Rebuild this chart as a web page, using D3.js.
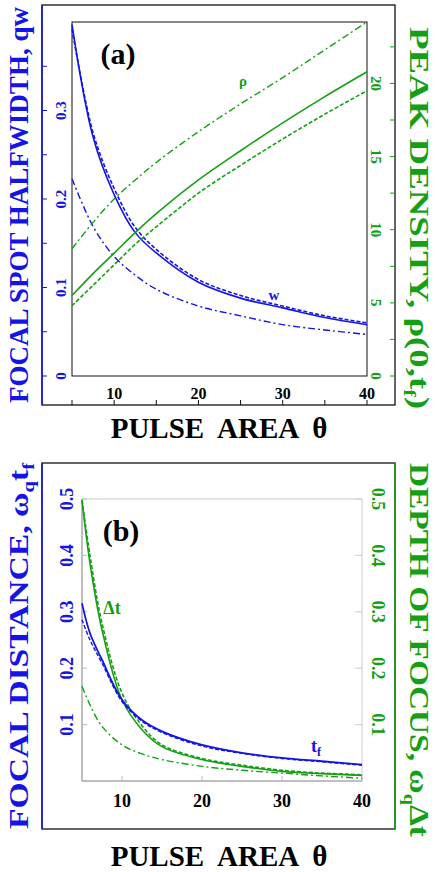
<!DOCTYPE html><html><head><meta charset="utf-8">
<script src="https://cdn.jsdelivr.net/npm/d3@7"></script>
<style>body{margin:0;background:#fff}text{font-family:"Liberation Serif","DejaVu Serif",serif;font-weight:bold}</style>
</head><body><svg id="c" width="436" height="872"></svg>
<script>
const BLUE="#1414e6", GREEN="#14a014";
// Panel (a)
const thetaA=[5,7.5,10,12.5,15,20,25,30,35,40];
const wSolid=[0.397,0.27,0.205,0.162,0.139,0.106,0.088,0.077,0.066,0.058];
const wDash =[0.392,0.275,0.212,0.168,0.143,0.109,0.091,0.079,0.068,0.060];
const wDashDot=[0.223,0.169,0.135,0.114,0.098,0.079,0.068,0.058,0.052,0.047];
const rhoSolid=[5.5,7.0,8.4,9.8,11.1,13.4,15.4,17.3,19.1,20.8];
const rhoDash=[4.8,6.2,7.6,9.0,10.2,12.5,14.4,16.2,17.9,19.5];
const rhoDashDot=[8.7,10.5,12.1,13.4,14.6,16.7,18.6,20.4,22.3,24.2];
const leftTicksA=[0,0.1,0.2,0.3], rightTicksA=[0,5,10,15,20];
// Panel (b)
const thetaB=[5,6,7.5,10,12.5,15,20,25,30,35,40];
const tfSolid=[0.315,0.262,0.215,0.144,0.108,0.088,0.064,0.050,0.041,0.035,0.029];
const tfDash=[0.286,0.250,0.209,0.141,0.106,0.086,0.062,0.049,0.040,0.034,0.028];
const dtSolid=[0.498,0.386,0.268,0.144,0.091,0.061,0.038,0.026,0.017,0.013,0.010];
const dtDash=[0.498,0.40,0.28,0.156,0.098,0.064,0.040,0.028,0.019,0.014,0.011];
const dtDashDot=[0.168,0.135,0.097,0.064,0.048,0.038,0.026,0.019,0.014,0.009,0.005];
const ticksB=[0.1,0.2,0.3,0.4,0.5], xTicks=[10,20,30,40];
const svg=d3.select("#c");
function line(g,x,y,xs,ys,color,dash,w){
 g.append("path").datum(xs.map((v,i)=>[v,ys[i]])).attr("fill","none").attr("stroke",color)
  .attr("stroke-width",w||1.6).attr("stroke-dasharray",dash||null)
  .attr("d",d3.line().x(d=>x(d[0])).y(d=>y(d[1])).curve(d3.curveCatmullRom));
}
// ---- (a)
{
 const g=svg.append("g");
 const x=d3.scaleLinear([5,40],[72,367]);
 const yL=d3.scaleLinear([0,0.4],[376,22]);
 const yR=d3.scaleLinear([0,24.2],[376,22]);
 g.append("rect").attr("x",42).attr("y",5).attr("width",353).attr("height",400).attr("fill","none").attr("stroke","#111").attr("stroke-width",1.3);
 g.append("line").attr("x1",42).attr("x2",42).attr("y1",5).attr("y2",405).attr("stroke",BLUE).attr("stroke-width",1.5);
 g.append("rect").attr("x",72).attr("y",22).attr("width",295).attr("height",354).attr("fill","none").attr("stroke","#111").attr("stroke-width",1);
 d3.range(0,0.4,0.05).forEach(v=>g.append("line").attr("x1",42).attr("x2",47).attr("y1",yL(v)).attr("y2",yL(v)).attr("stroke",BLUE));
 leftTicksA.forEach(v=>g.append("text").attr("transform",`translate(66,${yL(v)}) rotate(-90)`).attr("text-anchor","middle").attr("fill",BLUE).attr("font-size",15).text(v));
 d3.range(0,25,2.5).forEach(v=>g.append("line").attr("x1",390).attr("x2",395).attr("y1",yR(v)).attr("y2",yR(v)).attr("stroke",GREEN));
 rightTicksA.forEach(v=>g.append("text").attr("transform",`translate(371,${yR(v)}) rotate(90)`).attr("text-anchor","middle").attr("fill",GREEN).attr("font-size",15).text(v));
 d3.range(5,41,5).forEach(v=>g.append("line").attr("x1",x(v)).attr("x2",x(v)).attr("y1",405).attr("y2",400).attr("stroke","#111"));
 xTicks.forEach(v=>g.append("text").attr("x",x(v)).attr("y",399).attr("text-anchor","middle").attr("font-size",16).text(v));
 line(g,x,yL,thetaA,wSolid,BLUE);
 line(g,x,yL,thetaA,wDash,BLUE,"4,2");
 line(g,x,yL,thetaA,wDashDot,BLUE,"7,3,2,3",1.4);
 line(g,x,yR,thetaA,rhoSolid,GREEN);
 line(g,x,yR,thetaA,rhoDash,GREEN,"4,2");
 line(g,x,yR,thetaA,rhoDashDot,GREEN,"7,3,2,3",1.4);
 g.append("text").attr("x",118).attr("y",64).attr("text-anchor","middle").attr("font-size",30).text("(a)");
 g.append("text").attr("x",243).attr("y",86).attr("text-anchor","middle").attr("fill",GREEN).attr("font-size",15).text("ρ");
 g.append("text").attr("x",274).attr("y",300).attr("text-anchor","middle").attr("fill",BLUE).attr("font-size",15).text("w");
 g.append("text").attr("transform","translate(28,205) rotate(-90)").attr("text-anchor","middle").attr("fill",BLUE).attr("font-size",28).attr("textLength",396).attr("lengthAdjust","spacingAndGlyphs").text("FOCAL SPOT HALFWIDTH, qw");
 const t=g.append("text").attr("transform","translate(410,218) rotate(90)").attr("text-anchor","middle").attr("fill",GREEN).attr("font-size",28).attr("textLength",382).attr("lengthAdjust","spacingAndGlyphs");
 t.append("tspan").text("PEAK DENSITY, ρ(0,t");t.append("tspan").attr("font-size",17).attr("dy",6).text("f");t.append("tspan").attr("dy",-6).text(")");
 g.append("text").attr("x",219).attr("y",438).attr("text-anchor","middle").attr("font-size",29).attr("xml:space","preserve").text("PULSE  AREA  θ");
}
// ---- (b)
{
 const g=svg.append("g");
 const x=d3.scaleLinear([5,40],[82,362]);
 const y=d3.scaleLinear([0,0.5],[781,499]);
 g.append("rect").attr("x",42).attr("y",463).attr("width",353).attr("height",366).attr("fill","none").attr("stroke","#111").attr("stroke-width",1.3);
 g.append("line").attr("x1",42).attr("x2",42).attr("y1",463).attr("y2",829).attr("stroke",BLUE).attr("stroke-width",1.5);
 g.append("line").attr("x1",395).attr("x2",395).attr("y1",463).attr("y2",829).attr("stroke",GREEN).attr("stroke-width",1.5);
 g.append("rect").attr("x",82).attr("y",499).attr("width",280).attr("height",282).attr("fill","none").attr("stroke","#ccc").attr("stroke-width",1);
 g.append("line").attr("x1",82).attr("x2",82).attr("y1",499).attr("y2",781).attr("stroke","#999");
 g.append("line").attr("x1",82).attr("x2",362).attr("y1",781).attr("y2",781).attr("stroke","#999");
 ticksB.forEach(v=>{
  g.append("line").attr("x1",82).attr("x2",87).attr("y1",y(v)).attr("y2",y(v)).attr("stroke","#bbb");
  g.append("line").attr("x1",355).attr("x2",362).attr("y1",y(v)).attr("y2",y(v)).attr("stroke","#ccc");
  g.append("text").attr("transform",`translate(73,${y(v)}) rotate(-90)`).attr("text-anchor","middle").attr("fill",BLUE).attr("font-size",18).text(v);
  g.append("text").attr("transform",`translate(372,${y(v)}) rotate(90)`).attr("text-anchor","middle").attr("fill",GREEN).attr("font-size",18).text(v);
 });
 xTicks.forEach(v=>{
  g.append("line").attr("x1",x(v)).attr("x2",x(v)).attr("y1",781).attr("y2",776).attr("stroke","#bbb");
  g.append("text").attr("x",x(v)).attr("y",807).attr("text-anchor","middle").attr("font-size",18).text(v);
 });
 line(g,x,y,thetaB,dtSolid,GREEN);
 line(g,x,y,thetaB,dtDash,GREEN,"4,2");
 line(g,x,y,thetaB,dtDashDot,GREEN,"7,3,2,3",1.4);
 line(g,x,y,thetaB,tfSolid,BLUE,null,1.8);
 line(g,x,y,thetaB,tfDash,BLUE,"4,2",1.4);
 g.append("text").attr("x",121).attr("y",541).attr("text-anchor","middle").attr("font-size",30).text("(b)");
 g.append("text").attr("x",112).attr("y",614).attr("text-anchor","middle").attr("fill",GREEN).attr("font-size",18).text("Δt");
 const tf=g.append("text").attr("x",311).attr("y",752).attr("fill",BLUE).attr("font-size",18);
 tf.append("tspan").text("t");tf.append("tspan").attr("font-size",12).attr("dy",4).text("f");
 const l=g.append("text").attr("transform","translate(28,646) rotate(-90)").attr("text-anchor","middle").attr("fill",BLUE).attr("font-size",28).attr("textLength",366).attr("lengthAdjust","spacingAndGlyphs");
 l.append("tspan").text("FOCAL DISTANCE, ω");l.append("tspan").attr("font-size",17).attr("dy",6).text("q");l.append("tspan").attr("dy",-6).text("t");l.append("tspan").attr("font-size",17).attr("dy",6).text("f");
 const r=g.append("text").attr("transform","translate(410,650) rotate(90)").attr("text-anchor","middle").attr("fill",GREEN).attr("font-size",28).attr("textLength",374).attr("lengthAdjust","spacingAndGlyphs");
 r.append("tspan").text("DEPTH OF FOCUS, ω");r.append("tspan").attr("font-size",17).attr("dy",6).text("q");r.append("tspan").attr("dy",-6).text("Δt");
 g.append("text").attr("x",219).attr("y",866).attr("text-anchor","middle").attr("font-size",29).attr("xml:space","preserve").text("PULSE  AREA  θ");
}
</script></body></html>
